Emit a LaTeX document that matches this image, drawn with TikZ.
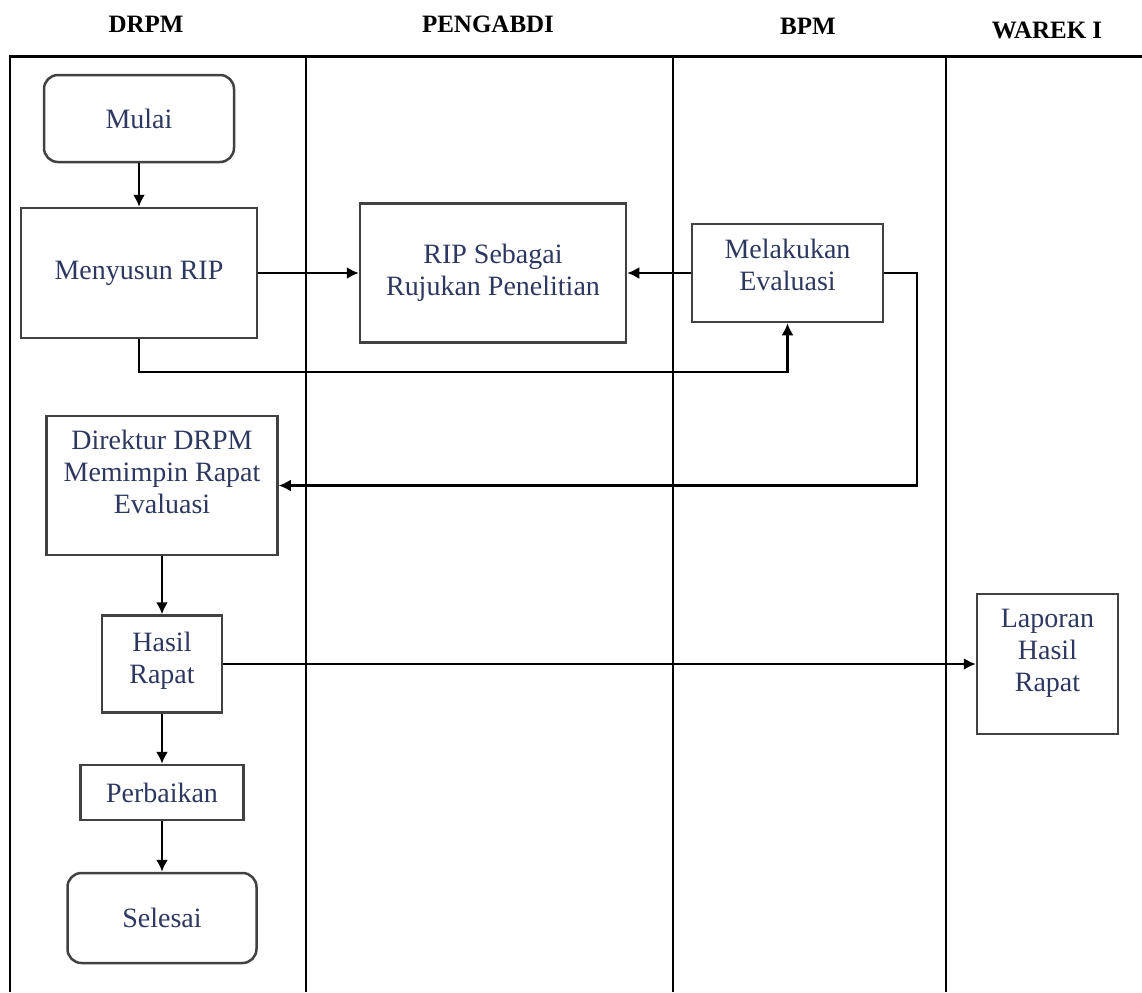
\documentclass[tikz,border=0pt]{standalone}
\usepackage{fontspec}
\setmainfont{Liberation Serif}
\usepackage{tikz}
\usetikzlibrary{positioning,arrows.meta,calc}
\definecolor{inkblue}{RGB}{45,55,95}
\definecolor{boxline}{RGB}{65,65,65}
\tikzset{box/.style = {rectangle,draw=boxline,line width=1.25pt,align=center,text=inkblue,
                       font=\fontsize{14}{16}\selectfont,inner sep=2pt},
         terminal/.style = {box,rounded corners=7pt},
         arr/.style = {line width=1.1pt,-{Latex[length=6pt,width=6pt]}},
         lane/.style = {line width=1pt},
         head/.style = {font=\fontsize{12.5}{14}\selectfont\bfseries}}

\begin{document}
\begin{tikzpicture}[x=0.5pt,y=-0.5pt]
            \useasboundingbox (0,0) rectangle (1142,992);
            % lanes
            \draw[line width=1.5pt] (9,56) -- (1142,56);
            \foreach \x in {10,306,673,946} {
                \draw[lane] (\x,56) -- (\x,992);
            }
            \node[head] (hdrpm)  at (146,24)  {DRPM};
            \node[head] (hpeng)  at (488,24)  {PENGABDI};
            \node[head] (hbpm)   at (808,26)  {BPM};
            \node[head] (hwarek) at (1047,30) {WAREK I};
            % steps
            \node[terminal,minimum width=95pt,minimum height=43.5pt] (mulai)  at (139,118.5) {Mulai};
            \node[box,minimum width=118pt,minimum height=65pt]        (susun)  at (139,273)   {Menyusun RIP};
            \node[box,minimum width=133pt,minimum height=69.5pt]      (rip)    at (493,273) {RIP Sebagai\\Rujukan Penelitian};
            \node[box,minimum width=95.5pt,minimum height=49pt,text depth=8pt] (eval) at (787.5,273) {Melakukan\\Evaluasi};
            \node[box,minimum width=115.5pt,minimum height=69.5pt,text depth=14pt] (direktur) at (162,485.5) {Direktur DRPM\\Memimpin Rapat\\Evaluasi};
            \node[box,minimum width=60pt,minimum height=48.5pt,text depth=6pt] (hasil) at (162,664) {Hasil\\Rapat};
            \node[box,minimum width=81.5pt,minimum height=27.5pt]     (perbaikan) at (162,792.5) {Perbaikan};
            \node[terminal,minimum width=94.5pt,minimum height=45pt]  (selesai) at (162,918) {Selesai};
            \node[box,minimum width=70.5pt,minimum height=70pt,text depth=14pt] (laporan) at (1047.5,664) {Laporan\\Hasil\\Rapat};
            \coordinate (low)  at (0,372);
            \coordinate (turn) at (917,485.5);
            % flow
            \draw[arr] (mulai) -- (susun);
            \draw[arr] (susun) -- (rip);
            \draw[arr] (eval) -- (rip);
            \draw[arr] (susun.south) -- (susun.south |- low) -| (eval.south);
            \draw[arr] (eval.east) -| (turn) -- (direktur.east);
            \draw[arr] (direktur) -- (hasil);
            \draw[arr] (hasil) -- (laporan);
            \draw[arr] (hasil) -- (perbaikan);
            \draw[arr] (perbaikan) -- (selesai);
        \end{tikzpicture}
\end{document}
